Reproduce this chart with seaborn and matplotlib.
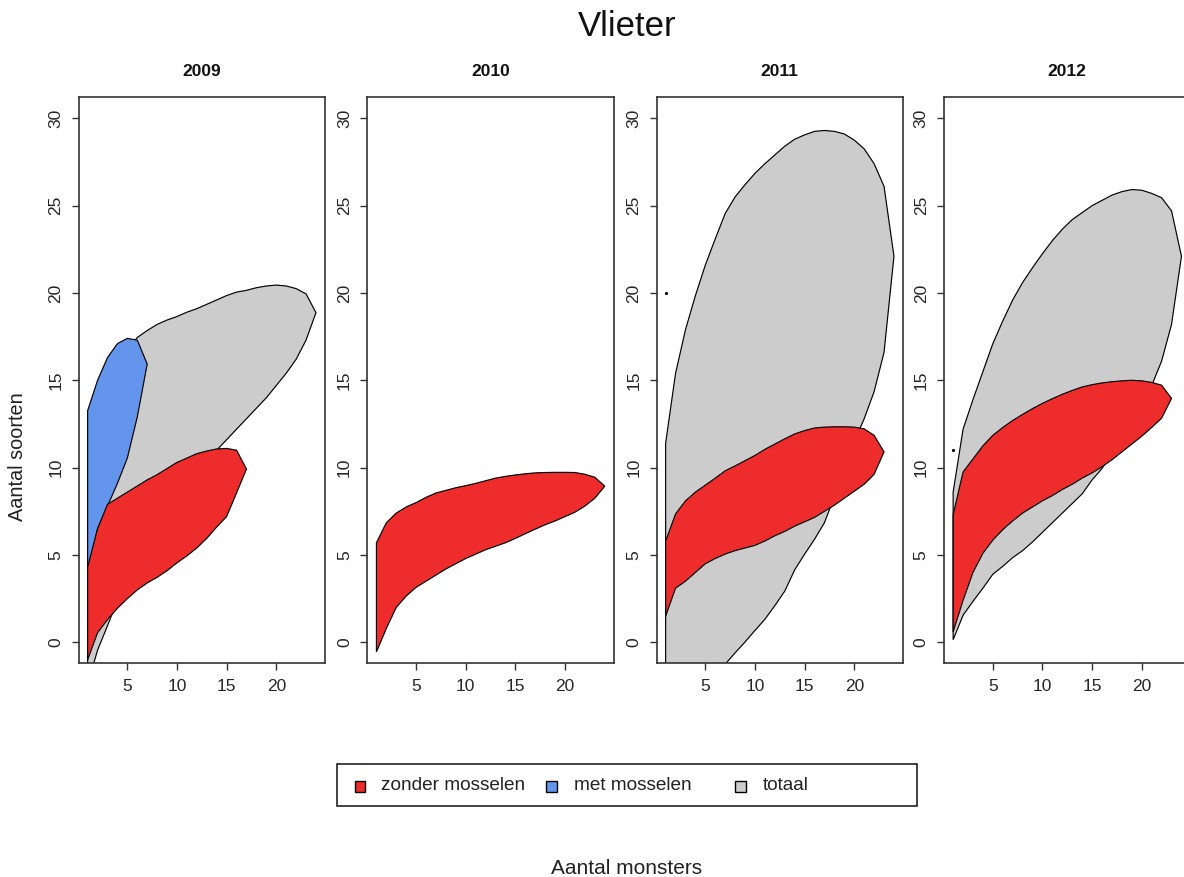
import numpy as np
import pandas as pd
import matplotlib
matplotlib.use("Agg")
import matplotlib.pyplot as plt
from matplotlib.patches import Rectangle
import seaborn as sns

# Species accumulation envelopes (upper / lower bound per number of samples, starting at 1)
years = ["2009", "2010", "2011", "2012"]
groups = ["totaal", "met mosselen", "zonder mosselen"]
legend_order = ["zonder mosselen", "met mosselen", "totaal"]
colors = {"zonder mosselen": "#EE2C2C", "met mosselen": "#6495ED", "totaal": "#CCCCCC"}

totaal_2009_upper = [8.5, 11.5, 13.8, 15.5, 16.7, 17.45, 17.85, 18.2, 18.45, 18.65, 18.9, 19.1,
                     19.35, 19.6, 19.85, 20.05, 20.15, 20.3, 20.4, 20.45, 20.4, 20.25, 19.95, 18.87]
totaal_2009_lower = [-2.4, -0.45, 0.95, 2.4, 3.3, 4.2, 5.1, 5.9, 6.7, 7.5, 8.3, 9.2,
                     10.1, 11.0, 11.6, 12.2, 12.8, 13.4, 14.0, 14.7, 15.4, 16.2, 17.3, 18.87]
met_2009_upper = [13.26, 15.0, 16.3, 17.1, 17.4, 17.3, 15.93]
met_2009_lower = [4.0, 6.5, 7.8, 9.1, 10.55, 12.9, 15.93]
zonder_2009_upper = [4.3, 6.5, 7.9, 8.25, 8.6, 8.95, 9.3, 9.6, 9.95, 10.3, 10.55, 10.8,
                     10.95, 11.07, 11.1, 11.0, 9.92]
zonder_2009_lower = [-1.0, 0.55, 1.3, 1.95, 2.5, 3.0, 3.4, 3.72, 4.1, 4.55, 4.95, 5.4,
                     5.95, 6.6, 7.2, 8.55, 9.92]

zonder_2010_upper = [5.7, 6.85, 7.4, 7.75, 8.0, 8.3, 8.55, 8.7, 8.85, 8.97, 9.1, 9.25,
                     9.4, 9.5, 9.58, 9.65, 9.7, 9.72, 9.73, 9.73, 9.72, 9.62, 9.45, 8.94]
zonder_2010_lower = [-0.55, 0.8, 2.0, 2.65, 3.15, 3.5, 3.85, 4.2, 4.5, 4.8, 5.05, 5.3,
                     5.5, 5.7, 5.95, 6.22, 6.48, 6.73, 6.95, 7.2, 7.45, 7.8, 8.25, 8.94]

totaal_2011_upper = [11.4, 15.4, 17.9, 19.85, 21.6, 23.1, 24.55, 25.5, 26.2, 26.85, 27.4, 27.9,
                     28.4, 28.8, 29.05, 29.25, 29.3, 29.25, 29.1, 28.75, 28.25, 27.4, 26.1, 22.1]
totaal_2011_lower = [-8.5, -6.5, -5.0, -3.8, -2.8, -1.95, -1.25, -0.6, 0.02, 0.68, 1.32, 2.1,
                     2.93, 4.15, 5.05, 5.9, 6.85, 8.35, 10.1, 11.5, 12.8, 14.35, 16.6, 22.1]
met_2011_upper = [20.0]
met_2011_lower = [20.0]
zonder_2011_upper = [5.8, 7.35, 8.1, 8.6, 9.0, 9.4, 9.82, 10.1, 10.4, 10.7, 11.05, 11.35,
                     11.65, 11.93, 12.12, 12.27, 12.32, 12.34, 12.34, 12.32, 12.22, 11.85, 10.9]
zonder_2011_lower = [1.5, 3.1, 3.5, 4.0, 4.5, 4.8, 5.05, 5.25, 5.4, 5.55, 5.8, 6.1,
                     6.35, 6.65, 6.9, 7.15, 7.5, 7.85, 8.25, 8.65, 9.05, 9.62, 10.9]

totaal_2012_upper = [8.6, 12.2, 13.9, 15.5, 17.1, 18.4, 19.6, 20.6, 21.45, 22.25, 23.0, 23.65,
                     24.2, 24.6, 25.0, 25.3, 25.6, 25.8, 25.92, 25.88, 25.7, 25.45, 24.7, 22.1]
totaal_2012_lower = [0.15, 1.55, 2.35, 3.1, 3.9, 4.35, 4.85, 5.25, 5.75, 6.3, 6.85, 7.4,
                     7.95, 8.5, 9.3, 9.95, 10.9, 11.8, 12.7, 13.6, 14.7, 16.1, 18.2, 22.1]
met_2012_upper = [11.0]
met_2012_lower = [11.0]
zonder_2012_upper = [7.3, 9.75, 10.5, 11.25, 11.85, 12.3, 12.7, 13.05, 13.38, 13.68, 13.95, 14.2,
                     14.42, 14.62, 14.75, 14.85, 14.92, 14.97, 15.0, 14.97, 14.88, 14.72, 13.96]
zonder_2012_lower = [0.6, 2.4, 4.0, 5.1, 5.85, 6.45, 6.95, 7.4, 7.75, 8.1, 8.4, 8.75,
                     9.05, 9.4, 9.7, 10.05, 10.45, 10.9, 11.35, 11.8, 12.3, 12.83, 13.96]

bands = {
    ("2009", "totaal"): (totaal_2009_upper, totaal_2009_lower),
    ("2009", "met mosselen"): (met_2009_upper, met_2009_lower),
    ("2009", "zonder mosselen"): (zonder_2009_upper, zonder_2009_lower),
    ("2010", "zonder mosselen"): (zonder_2010_upper, zonder_2010_lower),
    ("2011", "totaal"): (totaal_2011_upper, totaal_2011_lower),
    ("2011", "met mosselen"): (met_2011_upper, met_2011_lower),
    ("2011", "zonder mosselen"): (zonder_2011_upper, zonder_2011_lower),
    ("2012", "totaal"): (totaal_2012_upper, totaal_2012_lower),
    ("2012", "met mosselen"): (met_2012_upper, met_2012_lower),
    ("2012", "zonder mosselen"): (zonder_2012_upper, zonder_2012_lower),
}

rows = []
for (jaar, groep), (upper, lower) in bands.items():
    for i, (hi, lo) in enumerate(zip(upper, lower)):
        rows.append({"jaar": jaar, "groep": groep, "monsters": i + 1, "boven": hi, "onder": lo})
df = pd.DataFrame(rows)

sns.set_theme(style="white")
plt.rcParams["font.family"] = ["Liberation Sans", "DejaVu Sans"]
plt.rcParams["axes.edgecolor"] = "#333333"
plt.rcParams["axes.linewidth"] = 1.2


def draw_bands(data, **kws):
    ax = plt.gca()
    for groep in groups:
        sub = data[data["groep"] == groep].sort_values("monsters")
        if sub.empty:
            continue
        x = sub["monsters"].to_numpy()
        hi = sub["boven"].to_numpy()
        lo = sub["onder"].to_numpy()
        if len(sub) == 1:
            ax.plot(x, hi, "o", ms=1.3, color="black", zorder=3)
            continue
        px = np.concatenate([x, x[::-1]])
        py = np.concatenate([hi, lo[::-1]])
        ax.fill(px, py, facecolor=colors[groep], edgecolor="black", linewidth=0.85, zorder=2)


g = sns.FacetGrid(df, col="jaar", col_order=years, sharex=False, sharey=False, height=4, aspect=0.5)
g.map_dataframe(draw_bands)
g.set_titles("")
g.set_axis_labels("", "")

fig = g.figure
fig.set_size_inches(11.84, 8.77)
fig.set_dpi(100)
W, H = 1184.0, 877.0

lefts = [78.5, 367.3, 656.5, 944.0]
width = 246.6
top_px, bottom_px = 97.3, 663.3
for ax, left, jaar in zip(g.axes.flat, lefts, years):
    ax.set_position([left / W, 1 - bottom_px / H, width / W, (bottom_px - top_px) / H])
    ax.set_xlim(0.08, 24.92)
    ax.set_ylim(-1.2, 31.2)
    ax.set_xticks([5, 10, 15, 20])
    ax.set_yticks([0, 5, 10, 15, 20, 25, 30])
    ax.tick_params(axis="both", which="major", direction="out", length=5, width=1,
                   color="#333333", labelsize=12.5, pad=6, left=True, bottom=True)
    plt.setp(ax.get_yticklabels(), rotation=90, va="center")
    for s in ax.spines.values():
        s.set_visible(True)
        s.set_color("#333333")
        s.set_linewidth(1.2)
    ax.text(0.5, 1 + (top_px - 72) / (bottom_px - top_px), jaar, transform=ax.transAxes,
            ha="center", va="center", fontsize=12.5, fontweight="bold", color="#111111")
    ax.set_xlabel("")
    ax.set_ylabel("")

fig.text(627 / W, 1 - 27 / H, "Vlieter", ha="center", va="center", fontsize=25, color="#111111")
fig.text(18 / W, 1 - 457 / H, "Aantal soorten", rotation=90, ha="center", va="center",
         fontsize=14.3, color="#222222")
fig.text(627 / W, 1 - 868 / H, "Aantal monsters", ha="center", va="center",
         fontsize=15, color="#222222")

# Legend: framed box with filled squares and labels
box_l, box_r, box_t, box_b = 337, 917, 764, 806
fig.patches.append(Rectangle((box_l / W, 1 - box_b / H), (box_r - box_l) / W, (box_b - box_t) / H,
                             transform=fig.transFigure, facecolor="white", edgecolor="#222222",
                             linewidth=1.2))
row_y = 786
sq = 11
for groep, sx, tx in zip(legend_order, [360, 551, 740], [381, 574, 763]):
    fig.patches.append(Rectangle(((sx - sq / 2) / W, 1 - (row_y + sq / 2) / H), sq / W, sq / H,
                                 transform=fig.transFigure, facecolor=colors[groep],
                                 edgecolor="black", linewidth=1.0))
    fig.text(tx / W, 1 - row_y / H, groep, ha="left", va="center", fontsize=13.7, color="#222222")

fig.savefig("out.png", dpi=100)
